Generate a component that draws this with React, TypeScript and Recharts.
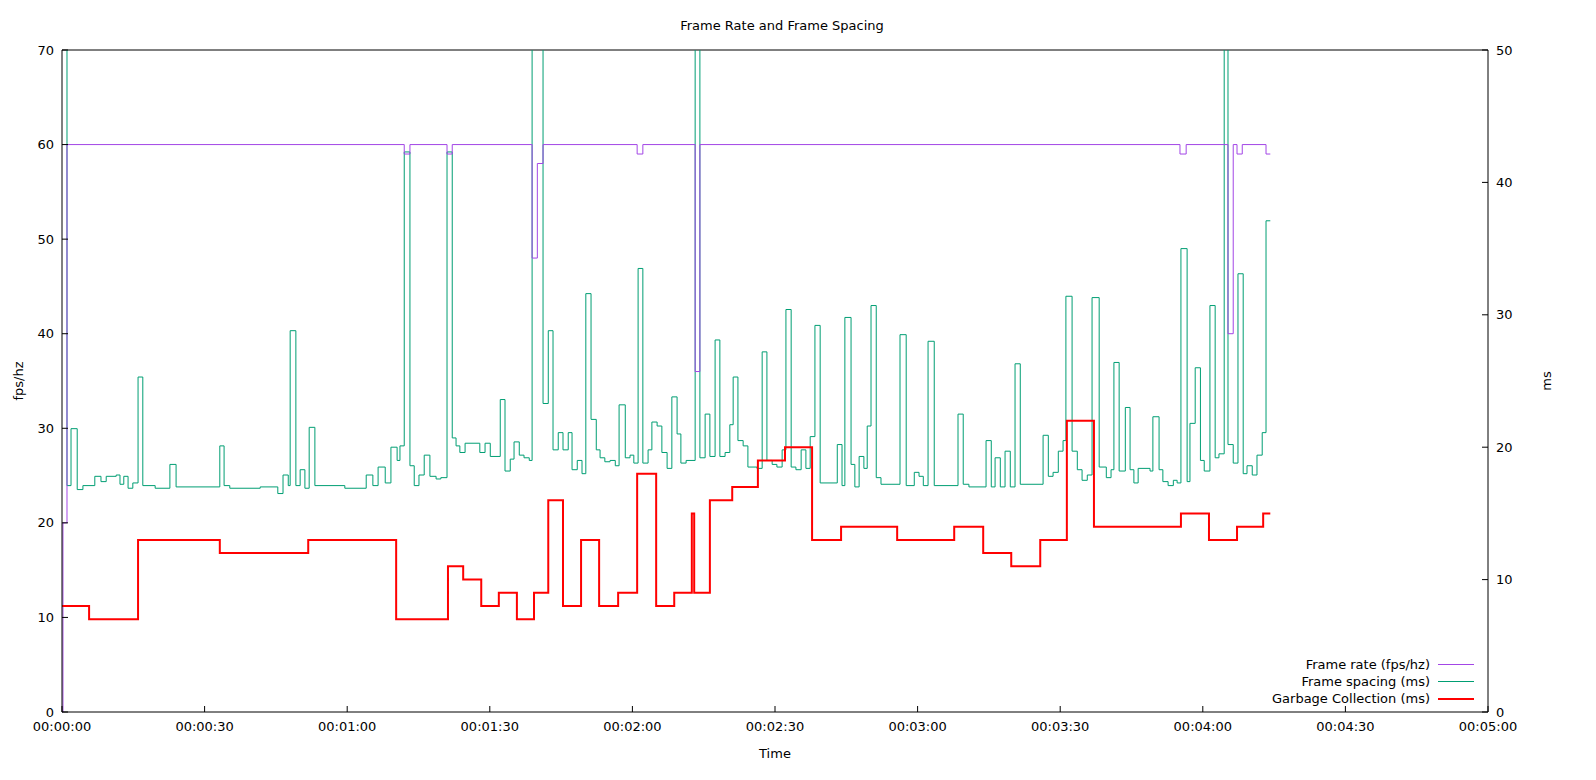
import { LineChart, Line, XAxis, YAxis, Label, ReferenceLine } from "recharts";

// [seconds, fps]
const frameRate: [number, number][] = [
  [0, 0], [0.2, 20], [1.05, 60], [72.0, 59], [73.2, 60], [81.0, 59], [82.1, 60],
  [98.9, 48], [100.0, 58], [101.2, 60], [121.0, 59], [122.2, 60], [133.2, 36], [134.2, 60],
  [235.2, 59], [236.5, 60], [245.3, 40], [246.4, 60], [247.2, 59], [248.3, 60], [253.3, 59], [254.2, 59],
];

// [seconds, ms]
const frameSpacing: [number, number][] = [
  [0, 52], [1.05, 17.1], [1.9, 21.4], [3.2, 16.8], [4.4, 17.1], [6.9, 17.8], [8.2, 17.4], [9.3, 17.8],
  [11.4, 17.9], [12.2, 17.2], [13.0, 17.8], [13.9, 16.9], [14.9, 17.3], [16.0, 25.3], [17.0, 17.1],
  [19.6, 16.9], [22.7, 18.7], [24.0, 17.0], [33.2, 20.1], [34.1, 17.1], [35.3, 16.9], [41.7, 17.0],
  [45.4, 16.5], [46.5, 17.9], [47.6, 17.1], [48.0, 28.8], [49.2, 17.1], [50.1, 18.3], [51.1, 16.9],
  [52.0, 21.5], [53.2, 17.1], [59.5, 16.9], [64.0, 17.9], [65.4, 17.1], [66.5, 18.5], [68.0, 17.3],
  [69.2, 20.0], [70.5, 19.0], [71.1, 20.1], [72.0, 42.3], [73.2, 18.6], [74.1, 17.1], [75.1, 17.9],
  [76.2, 19.4], [77.4, 17.8], [78.7, 17.6], [79.7, 17.7], [81.0, 42.3], [82.1, 20.7], [82.9, 20.1],
  [83.7, 19.6], [84.8, 20.3], [87.9, 19.6], [89.0, 20.3], [90.1, 19.3], [92.2, 23.6], [93.2, 18.2],
  [94.3, 19.1], [95.1, 20.4], [96.2, 19.4], [97.2, 19.2], [98.3, 19.0], [98.9, 52], [101.2, 23.3],
  [102.3, 28.8], [103.3, 19.8], [104.4, 21.1], [105.4, 19.8], [106.5, 21.1], [107.3, 18.3], [108.4, 19.0],
  [109.4, 18.0], [110.2, 31.6], [111.3, 22.1], [112.4, 19.8], [113.2, 19.2], [114.2, 18.9], [115.3, 19.0],
  [116.4, 18.6], [117.2, 23.2], [118.5, 19.2], [119.5, 19.4], [120.3, 18.8], [121.2, 33.5], [122.2, 18.8],
  [123.3, 19.8], [124.1, 21.9], [125.2, 21.6], [126.2, 19.6], [127.3, 18.4], [128.3, 23.8], [129.4, 21.0],
  [130.2, 18.8], [131.3, 19.0], [133.2, 52], [134.2, 19.2], [135.3, 22.5], [136.3, 19.3], [137.4, 28.1],
  [138.4, 19.3], [139.5, 19.6], [140.5, 21.7], [141.2, 25.3], [142.2, 20.5], [143.3, 20.1], [144.3, 18.5],
  [146.2, 18.4], [147.3, 27.2], [148.3, 19.0], [149.4, 18.7], [150.4, 18.5], [151.5, 19.8], [152.3, 30.4],
  [153.4, 18.5], [154.4, 18.3], [155.5, 19.8], [156.5, 18.4], [157.4, 20.8], [158.4, 29.2], [159.5, 17.3],
  [163.1, 20.2], [164.1, 17.1], [164.7, 29.8], [166.0, 18.7], [166.8, 17.0], [167.7, 19.3], [168.7, 18.4],
  [169.4, 21.6], [170.2, 30.7], [171.3, 17.7], [172.3, 17.2], [176.3, 28.5], [177.6, 17.1], [179.3, 18.1],
  [180.3, 17.8], [181.2, 17.1], [182.2, 28.0], [183.5, 17.1], [188.5, 22.5], [189.6, 17.2], [190.8, 17.0],
  [194.4, 20.5], [195.5, 17.0], [196.3, 19.2], [197.4, 17.0], [198.4, 19.7], [199.5, 17.0], [200.5, 26.3],
  [201.6, 17.2], [206.4, 20.9], [207.5, 17.8], [208.5, 18.1], [209.6, 19.7], [210.6, 20.5], [211.2, 31.4],
  [212.5, 19.7], [213.6, 18.3], [214.6, 17.5], [215.7, 17.9], [216.7, 31.3], [218.2, 18.5], [219.7, 17.7],
  [220.7, 18.3], [221.3, 26.4], [222.4, 18.2], [223.7, 23.0], [224.7, 18.3], [225.5, 17.3], [226.4, 18.4],
  [228.9, 18.2], [229.5, 22.3], [230.8, 18.3], [231.6, 17.4], [232.7, 17.1], [233.8, 17.5], [234.6, 17.3],
  [235.4, 35.0], [236.7, 17.4], [237.3, 21.8], [238.4, 26.0], [239.5, 19.0], [240.3, 18.2], [241.5, 30.7],
  [242.6, 19.2], [243.4, 19.5], [244.5, 52], [245.3, 20.2], [246.4, 18.8], [247.4, 33.1], [248.5, 18.0],
  [249.3, 18.6], [250.4, 17.9], [251.4, 19.4], [252.5, 21.1], [253.3, 37.1], [254.2, 37.1],
];

// [seconds, ms]
const garbageCollection: [number, number][] = [
  [0, 8], [5.7, 7], [16.0, 13], [33.2, 12], [51.8, 13], [70.3, 7], [81.2, 11], [84.4, 10], [88.2, 8],
  [91.9, 9], [95.7, 7], [99.3, 9], [102.3, 16], [105.4, 8], [109.2, 13], [113.0, 8], [117.0, 9],
  [121.0, 18], [125.0, 8], [128.8, 9], [132.5, 15], [133.0, 9], [136.3, 16], [141.0, 17], [146.4, 19],
  [152.1, 20], [157.8, 13], [163.9, 14], [175.7, 13], [187.7, 14], [193.8, 12], [199.7, 11], [205.8, 13],
  [211.4, 22], [217.1, 14], [235.4, 15], [241.3, 13], [247.2, 14], [252.7, 15], [254.2, 15],
];

const xTicks = [0, 30, 60, 90, 120, 150, 180, 210, 240, 270, 300];
const leftTicks = [0, 10, 20, 30, 40, 50, 60, 70];
const rightTicks = [0, 10, 20, 30, 40, 50];

const toRows = (pts: [number, number][]) => pts.map(([t, v]) => ({ t, v }));
const pad = (n: number) => String(n).padStart(2, "0");
const fmtTime = (s: number) => `${pad(Math.floor(s / 3600))}:${pad(Math.floor((s % 3600) / 60))}:${pad(s % 60)}`;

const FONT = "'DejaVu Sans', sans-serif";
const tickStyle = { fill: "#000", fontSize: 13, fontFamily: FONT };

const legendItems = [
  { label: "Frame rate (fps/hz)", color: "#a346e6", width: 1 },
  { label: "Frame spacing (ms)", color: "#009e73", width: 1 },
  { label: "Garbage Collection (ms)", color: "#ff0000", width: 2 },
];

export default function App() {
  return (
    <div style={{ position: "relative", width: 1580, height: 764, fontFamily: FONT }}>
      <div style={{ position: "absolute", top: 10, width: 1548, left: 0, textAlign: "center", fontSize: 13 }}>
        Frame Rate and Frame Spacing
      </div>
      <LineChart width={1580} height={764} margin={{ top: 42, right: 40, bottom: 20, left: 14 }}>
        <XAxis xAxisId="b" dataKey="t" type="number" domain={[0, 300]} ticks={xTicks}
          tickFormatter={fmtTime} tick={tickStyle} stroke="#000" tickSize={-6} tickMargin={16} height={40}>
          <Label value="Time" position="insideBottom" offset={-6} style={{ ...tickStyle }} />
        </XAxis>
        <YAxis yAxisId="l" domain={[0, 70]} ticks={leftTicks} tick={tickStyle} stroke="#000"
          tickSize={-6} tickMargin={14} width={40}>
          <Label value="fps/hz" angle={-90} position="insideLeft" offset={-4} style={{ ...tickStyle, textAnchor: "middle" }} />
        </YAxis>
        <YAxis yAxisId="r" orientation="right" domain={[0, 50]} ticks={rightTicks} tick={tickStyle} stroke="#000"
          tickSize={-6} tickMargin={14} width={60} allowDataOverflow>
          <Label value="ms" angle={-90} position="insideRight" offset={2} style={{ ...tickStyle, textAnchor: "middle" }} />
        </YAxis>
        <ReferenceLine xAxisId="b" yAxisId="l" y={70} stroke="#000" strokeWidth={1} ifOverflow="visible" />
        <Line xAxisId="b" yAxisId="r" data={toRows(frameSpacing)} dataKey="v" type="stepAfter"
          stroke="#009e73" strokeWidth={1} dot={false} isAnimationActive={false} />
        <Line xAxisId="b" yAxisId="l" data={toRows(frameRate)} dataKey="v" type="stepAfter"
          stroke="#a346e6" strokeWidth={1} dot={false} isAnimationActive={false} />
        <Line xAxisId="b" yAxisId="r" data={toRows(garbageCollection)} dataKey="v" type="stepAfter"
          stroke="#ff0000" strokeWidth={2} dot={false} isAnimationActive={false} />
      </LineChart>
      <div style={{ position: "absolute", left: 1116, top: 648, width: 350, fontSize: 13 }}>
        {legendItems.map((it) => (
          <div key={it.label} style={{ display: "flex", justifyContent: "flex-end", alignItems: "center", height: 17 }}>
            <span>{it.label}</span>
            <span style={{ display: "inline-block", width: 36, marginLeft: 8, borderTop: `${it.width}px solid ${it.color}` }} />
          </div>
        ))}
      </div>
    </div>
  );
}
